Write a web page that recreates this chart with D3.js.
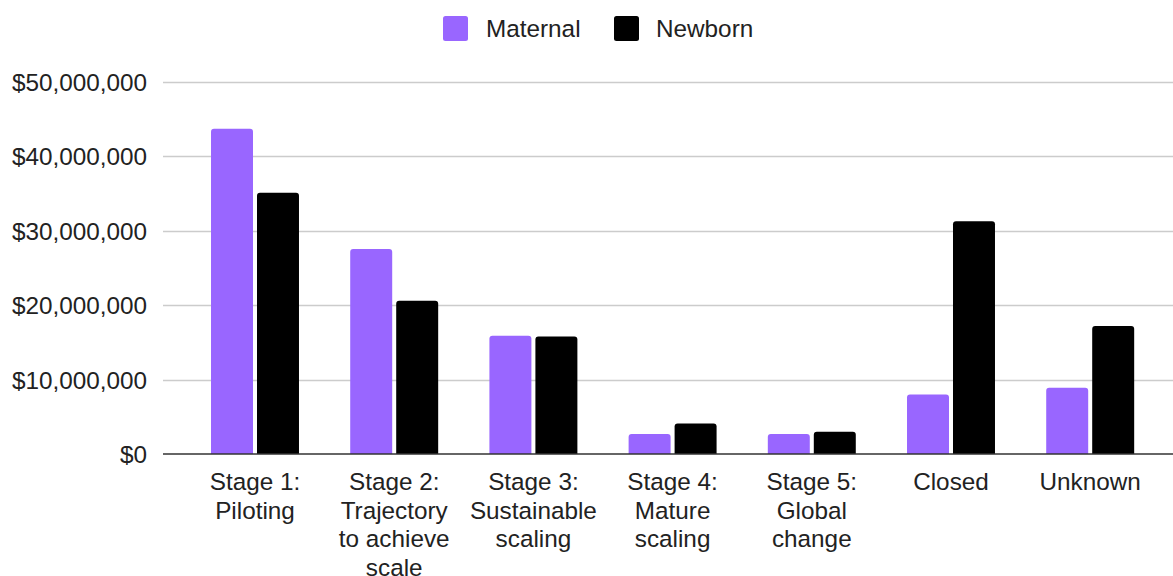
<!DOCTYPE html>
<html><head><meta charset="utf-8">
<script src="https://cdn.jsdelivr.net/npm/d3@7"></script>
<style>
html,body{margin:0;padding:0;background:#fff;}
svg{display:block;font-family:"Liberation Sans",Arial,sans-serif;}
</style></head>
<body><svg id="chart" width="1173" height="576"></svg>
<script>
const categories = [
  ["Stage 1:", "Piloting"],
  ["Stage 2:", "Trajectory", "to achieve", "scale"],
  ["Stage 3:", "Sustainable", "scaling"],
  ["Stage 4:", "Mature", "scaling"],
  ["Stage 5:", "Global", "change"],
  ["Closed"],
  ["Unknown"]
];
const seriesNames = ["Maternal", "Newborn"];
const maternal = [43700000, 27550000, 15900000, 2700000, 2700000, 8000000, 8900000];
const newborn  = [35100000, 20600000, 15800000, 4100000, 3000000, 31300000, 17200000];
const yTicks = [0, 10000000, 20000000, 30000000, 40000000, 50000000];
const colors = ["#9966ff", "#000000"];

const FS = 24.3;
const svg = d3.select("#chart");
const gridLeft = 163, gridRight = 1173;
const y = d3.scaleLinear().domain([0, 50000000]).range([454, 82]);
const x = d3.scaleBand().domain(d3.range(categories.length)).range([185.4, 1159.8]).paddingInner(0.368).paddingOuter(0.184);
const xs = d3.scaleBand().domain(seriesNames).range([0, x.bandwidth()]).paddingInner(4/46);

// gridlines
svg.append("g").selectAll("line").data(yTicks.slice(1)).join("line")
  .attr("x1", gridLeft).attr("x2", gridRight)
  .attr("y1", d => Math.round(y(d)) + 0.5).attr("y2", d => Math.round(y(d)) + 0.5)
  .attr("stroke", "#cccccc").attr("stroke-width", 1.5);

// y axis labels
const fmt = d => "$" + d3.format(",")(d);
const yAxis = d3.axisLeft(y).tickValues(yTicks).tickFormat(fmt).tickSize(0).tickPadding(0);
const ya = svg.append("g").attr("transform", "translate(147,0)").call(yAxis);
ya.select(".domain").remove();
ya.selectAll("text").attr("font-size", FS).attr("fill", "#222").attr("font-family", "Liberation Sans, Arial, sans-serif").attr("dy", "0.35em");

// bars
const data = categories.map((c, i) => ({i, vals: [maternal[i], newborn[i]]}));
const r = 3;
function barPath(x0, w, yTop, yBot) {
  return `M${x0},${yBot}V${yTop + r}Q${x0},${yTop} ${x0 + r},${yTop}H${x0 + w - r}Q${x0 + w},${yTop} ${x0 + w},${yTop + r}V${yBot}Z`;
}
const groups = svg.append("g").selectAll("g").data(data).join("g")
  .attr("transform", d => `translate(${x(d.i)},0)`);
groups.selectAll("path").data(d => d.vals.map((v, k) => ({v, k}))).join("path")
  .attr("d", d => barPath(xs(seriesNames[d.k]), xs.bandwidth(), y(d.v), y(0)))
  .attr("fill", d => colors[d.k]);

// baseline
svg.append("line").attr("x1", gridLeft).attr("x2", gridRight).attr("y1", 454).attr("y2", 454)
  .attr("stroke", "#333").attr("stroke-width", 1.5);

// x labels
const xl = svg.append("g").selectAll("text").data(categories).join("text")
  .attr("x", (d, i) => x(i) + x.bandwidth() / 2).attr("y", 490)
  .attr("text-anchor", "middle").attr("font-size", FS).attr("fill", "#222");
xl.selectAll("tspan").data(d => d).join("tspan")
  .attr("x", function() { return this.parentNode.getAttribute("x"); })
  .attr("dy", (d, j) => j === 0 ? 0 : 28.5).text(d => d);

// legend
const legendItems = [{name: seriesNames[0], sx: 443, tx: 486}, {name: seriesNames[1], sx: 614, tx: 656}];
const lg = svg.append("g").selectAll("g").data(legendItems).join("g");
lg.append("rect").attr("x", d => d.sx).attr("y", 16).attr("width", 25).attr("height", 25).attr("rx", 2.5)
  .attr("fill", (d, i) => colors[i]);
lg.append("text").attr("x", d => d.tx).attr("y", 28.5).attr("dy", "0.35em")
  .attr("font-size", FS).attr("fill", "#222").text(d => d.name);
</script></body></html>
